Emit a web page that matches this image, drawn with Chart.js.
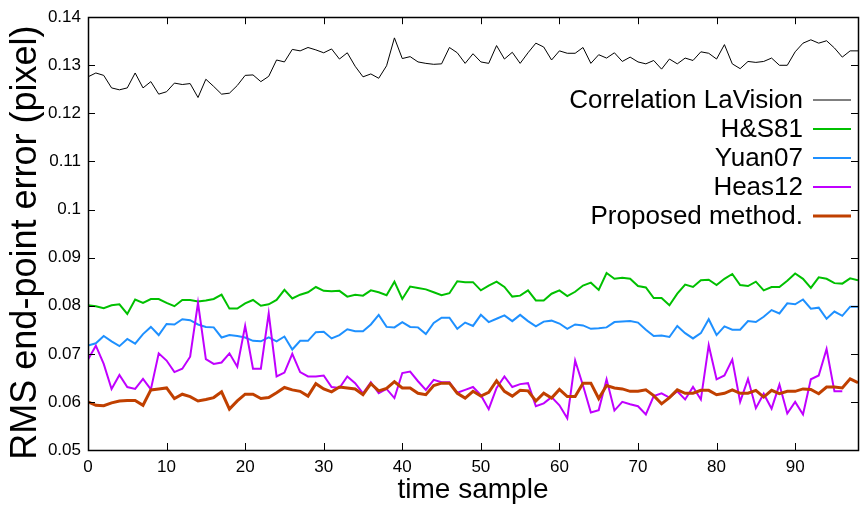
<!DOCTYPE html>
<html>
<head>
<meta charset="utf-8">
<script src="https://cdn.jsdelivr.net/npm/chart.js@4/dist/chart.umd.min.js"></script>
<style>
  body { margin: 0; background: #fff; }
  canvas { display: block; }
</style>
</head>
<body>
<canvas id="theChart" width="860" height="507"></canvas>
<script>
'use strict';

// data, one value per time sample (0..98)
let seriesNames = ['Correlation LaVision', 'H&S81', 'Yuan07', 'Heas12', 'Proposed method.'];
let yTitle = 'RMS end-point error (pixel)';
let xTitle = 'time sample';

let correlation = [0.1276, 0.1284, 0.1279, 0.1253, 0.1249, 0.1253, 0.1284, 0.1253, 0.1266, 0.1240,
  0.1245, 0.1263, 0.1260, 0.1262, 0.1233, 0.1271, 0.1256, 0.1240, 0.1242, 0.1258,
  0.1279, 0.1280, 0.1266, 0.1277, 0.1311, 0.1307, 0.1333, 0.1330, 0.1337, 0.1332,
  0.1326, 0.1334, 0.1313, 0.1326, 0.1298, 0.1276, 0.1282, 0.1273, 0.1299, 0.1357,
  0.1314, 0.1318, 0.1307, 0.1304, 0.1302, 0.1303, 0.1337, 0.1326, 0.1304, 0.1324,
  0.1307, 0.1304, 0.1341, 0.1313, 0.1327, 0.1304, 0.1326, 0.1346, 0.1338, 0.1311,
  0.1330, 0.1325, 0.1325, 0.1337, 0.1304, 0.1322, 0.1315, 0.1326, 0.1308, 0.1317,
  0.1307, 0.1303, 0.1310, 0.1292, 0.1313, 0.1303, 0.1315, 0.1310, 0.1328, 0.1325,
  0.1313, 0.1343, 0.1303, 0.1293, 0.1308, 0.1306, 0.1308, 0.1315, 0.1300, 0.1300,
  0.1328, 0.1346, 0.1353, 0.1346, 0.1351, 0.1336, 0.1317, 0.1330, 0.1330];

let hs81 = [0.0801, 0.0799, 0.0795, 0.0801, 0.0803, 0.0783, 0.0813, 0.0806, 0.0814, 0.0814,
  0.0806, 0.0799, 0.0812, 0.0812, 0.0809, 0.0811, 0.0814, 0.0823, 0.0794, 0.0794,
  0.0805, 0.0812, 0.0800, 0.0803, 0.0812, 0.0833, 0.0815, 0.0823, 0.0828, 0.0839,
  0.0831, 0.0830, 0.0831, 0.0819, 0.0823, 0.0821, 0.0832, 0.0828, 0.0822, 0.0850,
  0.0814, 0.0840, 0.0837, 0.0834, 0.0828, 0.0822, 0.0826, 0.0851, 0.0849, 0.0849,
  0.0832, 0.0842, 0.0850, 0.0839, 0.0819, 0.0821, 0.0832, 0.0811, 0.0811, 0.0825,
  0.0832, 0.0820, 0.0829, 0.0842, 0.0848, 0.0833, 0.0868, 0.0856, 0.0858, 0.0856,
  0.0841, 0.0838, 0.0816, 0.0816, 0.0801, 0.0825, 0.0844, 0.0839, 0.0853, 0.0854,
  0.0843, 0.0856, 0.0866, 0.0843, 0.0841, 0.0850, 0.0832, 0.0839, 0.0839, 0.0852,
  0.0867, 0.0856, 0.0837, 0.0859, 0.0856, 0.0847, 0.0846, 0.0857, 0.0853];

let yuan07 = [0.0717, 0.0722, 0.0737, 0.0726, 0.0716, 0.0731, 0.0721, 0.0741, 0.0756, 0.0739,
  0.0762, 0.0761, 0.0772, 0.0770, 0.0761, 0.0756, 0.0755, 0.0734, 0.0739, 0.0737,
  0.0734, 0.0727, 0.0726, 0.0734, 0.0726, 0.0736, 0.0709, 0.0727, 0.0727, 0.0745,
  0.0746, 0.0732, 0.0739, 0.0751, 0.0747, 0.0747, 0.0761, 0.0781, 0.0756, 0.0755,
  0.0766, 0.0756, 0.0755, 0.0741, 0.0764, 0.0775, 0.0775, 0.0752, 0.0765, 0.0758,
  0.0781, 0.0766, 0.0773, 0.0780, 0.0768, 0.0781, 0.0768, 0.0757, 0.0767, 0.0769,
  0.0763, 0.0752, 0.0761, 0.0759, 0.0752, 0.0753, 0.0755, 0.0766, 0.0767, 0.0768,
  0.0765, 0.0750, 0.0737, 0.0738, 0.0735, 0.0758, 0.0743, 0.0732, 0.0743, 0.0772,
  0.0739, 0.0757, 0.0750, 0.0750, 0.0768, 0.0766, 0.0777, 0.0791, 0.0784, 0.0805,
  0.0803, 0.0813, 0.0794, 0.0796, 0.0773, 0.0788, 0.0779, 0.0798, 0.0798];

let heas12 = [0.0688, 0.0717, 0.0679, 0.0627, 0.0656, 0.0631, 0.0627, 0.0648, 0.0626, 0.0701,
  0.0686, 0.0662, 0.0669, 0.0694, 0.0806, 0.0689, 0.0679, 0.0682, 0.0701, 0.0673,
  0.0758, 0.0669, 0.0669, 0.0784, 0.0653, 0.0661, 0.0700, 0.0662, 0.0653, 0.0653,
  0.0655, 0.0631, 0.0629, 0.0653, 0.0639, 0.0618, 0.0641, 0.0618, 0.0627, 0.0608,
  0.0660, 0.0663, 0.0643, 0.0625, 0.0646, 0.0641, 0.0641, 0.0619, 0.0625, 0.0631,
  0.0614, 0.0585, 0.0629, 0.0653, 0.0631, 0.0637, 0.0639, 0.0591, 0.0597, 0.0610,
  0.0593, 0.0566, 0.0686, 0.0634, 0.0578, 0.0583, 0.0647, 0.0582, 0.0600, 0.0595,
  0.0591, 0.0574, 0.0612, 0.0618, 0.0609, 0.0622, 0.0605, 0.0631, 0.0605, 0.0718,
  0.0647, 0.0655, 0.0688, 0.0600, 0.0648, 0.0587, 0.0617, 0.0586, 0.0636, 0.0576,
  0.0600, 0.0574, 0.0647, 0.0655, 0.0710, 0.0622, 0.0622, null, null];

let proposed = [0.0600, 0.0593, 0.0592, 0.0598, 0.0602, 0.0603, 0.0603, 0.0593, 0.0625, 0.0627,
  0.0629, 0.0607, 0.0616, 0.0611, 0.0602, 0.0605, 0.0609, 0.0621, 0.0585, 0.0602,
  0.0616, 0.0616, 0.0607, 0.0609, 0.0619, 0.0630, 0.0625, 0.0622, 0.0612, 0.0638,
  0.0627, 0.0621, 0.0631, 0.0629, 0.0627, 0.0615, 0.0638, 0.0623, 0.0628, 0.0642,
  0.0629, 0.0629, 0.0618, 0.0615, 0.0634, 0.0639, 0.0639, 0.0618, 0.0608, 0.0622,
  0.0612, 0.0620, 0.0644, 0.0622, 0.0612, 0.0624, 0.0623, 0.0602, 0.0618, 0.0608,
  0.0626, 0.0611, 0.0611, 0.0639, 0.0639, 0.0607, 0.0634, 0.0629, 0.0627, 0.0622,
  0.0622, 0.0625, 0.0613, 0.0596, 0.0609, 0.0625, 0.0618, 0.0618, 0.0624, 0.0624,
  0.0615, 0.0618, 0.0625, 0.0618, 0.0618, 0.0624, 0.0610, 0.0624, 0.0617, 0.0622,
  0.0622, 0.0627, 0.0626, 0.0617, 0.0631, 0.0631, 0.0629, 0.0648, 0.0640];

let xTicks = [0, 10, 20, 30, 40, 50, 60, 70, 80, 90];
let yTicks = [0.05, 0.06, 0.07, 0.08, 0.09, 0.1, 0.11, 0.12, 0.13, 0.14];

const fontFamily = '"Liberation Sans", Arial, Helvetica, sans-serif';

function toPoints(values) {
  let pts = [];
  for (let i = 0; i < values.length; i++) {
    pts.push({ x: i, y: values[i] });
  }
  return pts;
}

// gnuplot style box with inward ticks on all four sides
const frameTicks = {
  id: 'frameTicks',
  afterDatasetsDraw(chart) {
    let ctx = chart.ctx;
    let a = chart.chartArea;
    let xs = chart.scales.x;
    let ys = chart.scales.y;
    let len = 7;
    ctx.save();
    ctx.strokeStyle = '#000';
    ctx.lineWidth = 1;
    ctx.beginPath();
    xTicks.forEach(function (t) {
      let px = Math.round(xs.getPixelForValue(t)) + 0.5;
      ctx.moveTo(px, a.bottom); ctx.lineTo(px, a.bottom - len);
      ctx.moveTo(px, a.top); ctx.lineTo(px, a.top + len);
    });
    yTicks.forEach(function (t) {
      let py = Math.round(ys.getPixelForValue(t)) + 0.5;
      ctx.moveTo(a.left, py); ctx.lineTo(a.left + len, py);
      ctx.moveTo(a.right, py); ctx.lineTo(a.right - len, py);
    });
    ctx.stroke();
    ctx.lineWidth = 1.5;
    ctx.strokeRect(Math.round(a.left) + 0.5, Math.round(a.top) + 0.5,
      Math.round(a.right - a.left), Math.round(a.bottom - a.top));
    ctx.restore();
  }
};

// key in the upper right: text right aligned, line sample after it,
// plus the rotated y title which sits a little below the plot centre
const sideKey = {
  id: 'sideKey',
  afterDraw(chart) {
    let ctx = chart.ctx;
    let a = chart.chartArea;
    let textRight = a.right - 55;
    let lineStart = a.right - 45;
    let lineEnd = a.right - 7;
    let y0 = 100;
    let step = 29;
    ctx.save();
    ctx.font = '26px ' + fontFamily;
    ctx.textAlign = 'right';
    ctx.textBaseline = 'middle';
    chart.data.datasets.forEach(function (ds, i) {
      let y = y0 + i * step;
      ctx.fillStyle = '#000';
      ctx.fillText(ds.label, textRight, y + 1);
      ctx.strokeStyle = ds.borderColor;
      ctx.lineWidth = ds.borderWidth;
      ctx.beginPath();
      ctx.moveTo(lineStart, y);
      ctx.lineTo(lineEnd, y);
      ctx.stroke();
    });

    ctx.translate(26, (a.top + a.bottom) / 2 + 9);
    ctx.rotate(-Math.PI / 2);
    ctx.font = '36px ' + fontFamily;
    ctx.textAlign = 'center';
    ctx.textBaseline = 'middle';
    ctx.fillStyle = '#000';
    ctx.fillText(yTitle, 0, 0);
    ctx.restore();
  }
};

const colors = ['#000000', '#00c000', '#1e90ff', '#c000ff', '#c04000'];
const widths = [1, 2, 2, 2, 3];
const allSeries = [correlation, hs81, yuan07, heas12, proposed];

let datasets = [];
for (let i = 0; i < allSeries.length; i++) {
  datasets.push({
    label: seriesNames[i],
    data: toPoints(allSeries[i]),
    borderColor: colors[i],
    borderWidth: widths[i],
    pointRadius: 0,
    tension: 0,
    fill: false,
    spanGaps: false,
    order: allSeries.length - i
  });
}

const config = {
  type: 'line',
  data: { datasets: datasets },
  options: {
    responsive: false,
    animation: false,
    layout: { padding: { top: 14, right: 2, left: 0, bottom: 0 } },
    plugins: {
      legend: { display: false },
      tooltip: { enabled: false }
    },
    scales: {
      x: {
        type: 'linear',
        min: 0,
        max: 98,
        grid: { display: false, drawTicks: false },
        border: { display: false },
        afterFit(scale) { scale.height = 57; },
        afterBuildTicks(scale) { scale.ticks = xTicks.map(function (v) { return { value: v }; }); },
        ticks: {
          padding: 7,
          color: '#000',
          font: { family: fontFamily, size: 17 }
        },
        title: {
          display: true,
          text: xTitle,
          color: '#000',
          font: { family: fontFamily, size: 28, lineHeight: 1.1 },
          padding: { top: 0, bottom: 1 }
        }
      },
      y: {
        type: 'linear',
        min: 0.05,
        max: 0.14,
        grid: { display: false, drawTicks: false },
        border: { display: false },
        afterFit(scale) { scale.width = 88; },
        afterBuildTicks(scale) { scale.ticks = yTicks.map(function (v) { return { value: v }; }); },
        ticks: {
          padding: 7,
          color: '#000',
          font: { family: fontFamily, size: 17 },
          callback: function (v) { return String(Number(v.toFixed(2))); }
        },
        title: { display: false }
      }
    }
  },
  plugins: [frameTicks, sideKey]
};

new Chart(document.getElementById('theChart'), config);
</script>
</body>
</html>
